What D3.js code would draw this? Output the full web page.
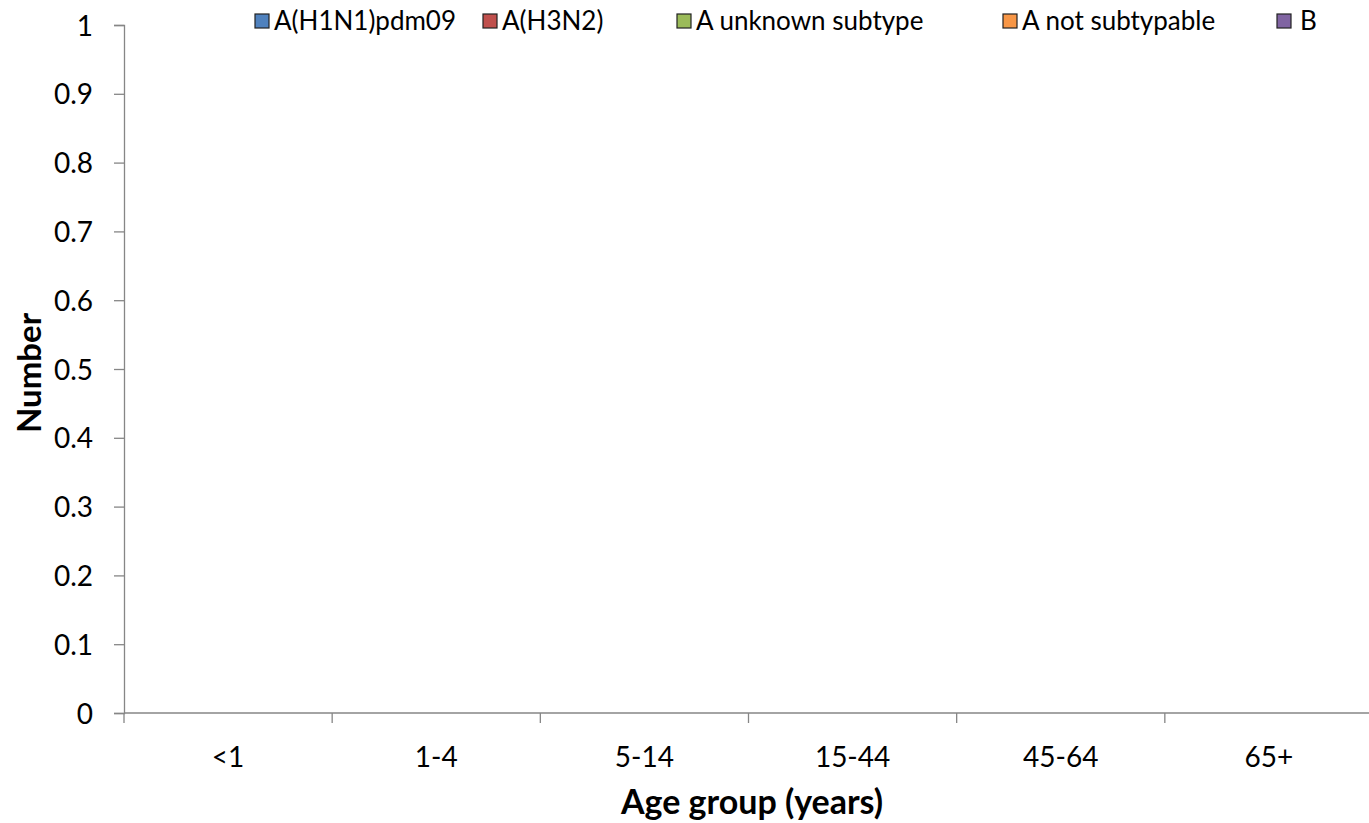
<!DOCTYPE html>
<html>
<head>
<meta charset="utf-8">
<script src="https://cdn.jsdelivr.net/npm/d3@7"></script>
<style>
  html, body { margin: 0; padding: 0; background: #fff; }
  svg { display: block; }
  text { font-family: Lato, "Open Sans", sans-serif; fill: #000; }
</style>
</head>
<body>
<svg id="chart" width="1369" height="823"></svg>
<script>
// Age groups on the x axis
const ageGroups = ["<1", "1-4", "5-14", "15-44", "45-64", "65+"];

// Counts per age group for each influenza type/subtype
const seriesNames = ["A(H1N1)pdm09", "A(H3N2)", "A unknown subtype", "A not subtypable", "B"];
const h1n1 = [0, 0, 0, 0, 0, 0];
const h3n2 = [0, 0, 0, 0, 0, 0];
const aUnknown = [0, 0, 0, 0, 0, 0];
const aNotSubtypable = [0, 0, 0, 0, 0, 0];
const bType = [0, 0, 0, 0, 0, 0];
const seriesColors = ["#4F81BD", "#C0504D", "#9BBB59", "#F79646", "#8064A2"];

// Y axis ticks
const yTicks = [0, 0.1, 0.2, 0.3, 0.4, 0.5, 0.6, 0.7, 0.8, 0.9, 1];

const svg = d3.select("#chart");
const plotLeft = 124, plotRight = 1373, plotTop = 25, plotBottom = 713;
const axisColor = "#868686";
const labelSize = "28px";
const legendSize = "26px";
const titleSize = "34px";

const x = d3.scaleBand().domain(ageGroups).range([plotLeft, plotRight]).paddingInner(0.5).paddingOuter(0.25);
const y = d3.scaleLinear().domain([0, 1]).range([plotBottom, plotTop]);

// Stack the series
const rows = ageGroups.map((g, i) => ({
  group: g,
  [seriesNames[0]]: h1n1[i],
  [seriesNames[1]]: h3n2[i],
  [seriesNames[2]]: aUnknown[i],
  [seriesNames[3]]: aNotSubtypable[i],
  [seriesNames[4]]: bType[i]
}));
const stacked = d3.stack().keys(seriesNames)(rows);

svg.append("g").selectAll("g")
  .data(stacked)
  .join("g")
  .attr("fill", (d, i) => seriesColors[i])
  .selectAll("rect")
  .data(d => d)
  .join("rect")
  .attr("x", d => x(d.data.group))
  .attr("width", x.bandwidth())
  .attr("y", d => y(d[1]))
  .attr("height", d => y(d[0]) - y(d[1]));

// Y axis
const yAxis = svg.append("g")
  .attr("transform", `translate(${plotLeft},0)`)
  .call(d3.axisLeft(y).tickValues(yTicks).tickSize(10).tickPadding(21)
    .tickFormat(d => d3.format("~g")(d)));
yAxis.select(".domain").attr("stroke", axisColor).attr("stroke-width", 1.3);
yAxis.selectAll(".tick line").attr("stroke", axisColor).attr("stroke-width", 1.3);
yAxis.selectAll(".tick text").style("font-size", labelSize).attr("dy", "0.36em");

// X axis: category boundary ticks, labels centered in each band
const xb = d3.scaleLinear().domain([0, ageGroups.length]).range([plotLeft, plotRight]);
const xAxisG = svg.append("g");
xAxisG.append("line")
  .attr("x1", plotLeft).attr("x2", plotRight)
  .attr("y1", plotBottom).attr("y2", plotBottom)
  .attr("stroke", axisColor).attr("stroke-width", 1.3);
xAxisG.selectAll("line.tk")
  .data(d3.range(ageGroups.length + 1))
  .join("line")
  .attr("class", "tk")
  .attr("x1", d => xb(d)).attr("x2", d => xb(d))
  .attr("y1", plotBottom).attr("y2", plotBottom + 10)
  .attr("stroke", axisColor).attr("stroke-width", 1.3);
xAxisG.selectAll("text")
  .data(ageGroups)
  .join("text")
  .attr("x", d => x(d) + x.bandwidth() / 2)
  .attr("y", 767)
  .attr("text-anchor", "middle")
  .style("font-size", labelSize)
  .text(d => d);

// Axis titles
svg.append("text")
  .attr("x", 752).attr("y", 814)
  .attr("text-anchor", "middle")
  .style("font-size", titleSize).style("font-weight", "bold")
  .text("Age group (years)");
svg.append("text")
  .attr("transform", "translate(41,373) rotate(-90)")
  .attr("text-anchor", "middle")
  .style("font-size", "33px").style("font-weight", "bold")
  .text("Number");

// Legend along the top edge
const legendTextX = [274, 502, 696, 1022, 1300];
const legendSwatchX = [255, 483, 677, 1003, 1277];
const swatch = 14;
const legend = svg.append("g").selectAll("g")
  .data(seriesNames)
  .join("g");
legend.append("rect")
  .attr("x", (d, i) => legendSwatchX[i]).attr("y", 14)
  .attr("width", swatch).attr("height", swatch)
  .attr("fill", (d, i) => seriesColors[i])
  .attr("stroke", "#222").attr("stroke-width", 1.2);
legend.append("text")
  .attr("x", (d, i) => legendTextX[i]).attr("y", 30)
  .style("font-size", legendSize)
  .text(d => d);
</script>
</body>
</html>
